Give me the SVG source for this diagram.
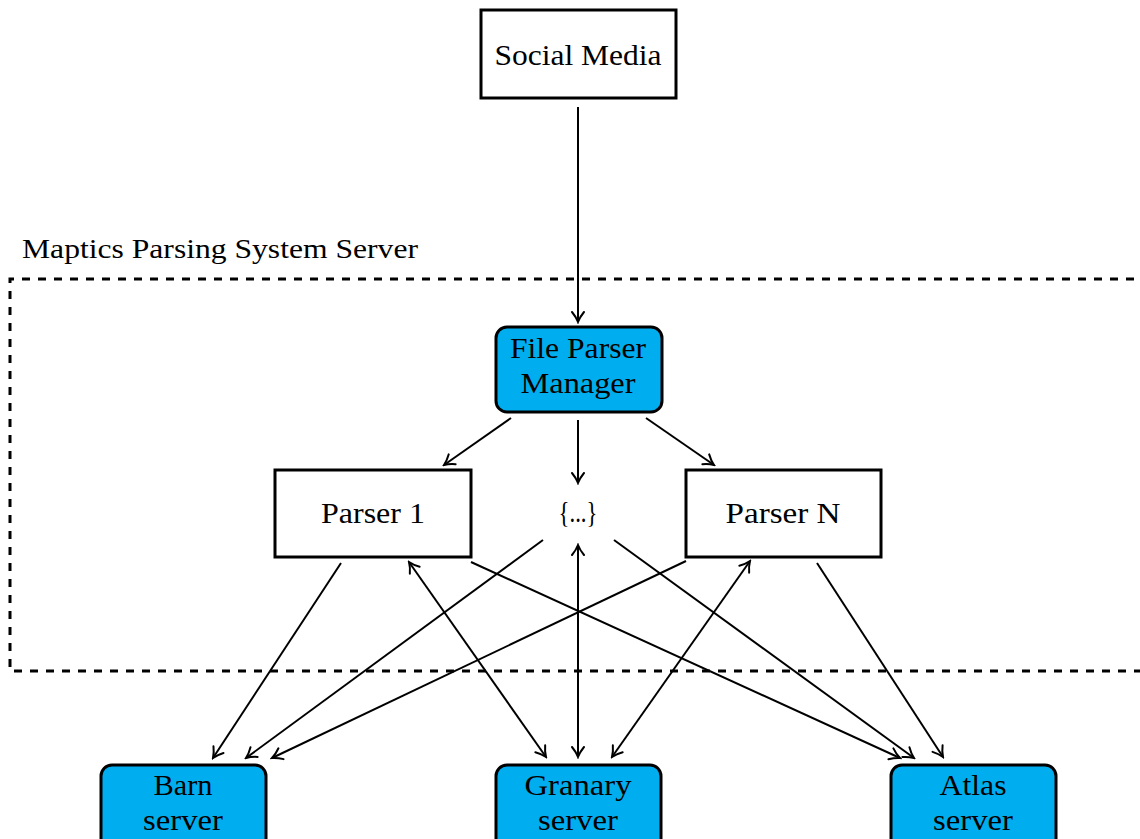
<svg xmlns="http://www.w3.org/2000/svg" width="1140" height="839" viewBox="0 0 1140 839">
  <style>
    .box { fill: #ffffff; stroke: #000; stroke-width: 3; }
    .srv { fill: #00AEEF; stroke: #000; stroke-width: 3; }
    .lbl { font-family: "Liberation Serif", "Times New Roman", serif; font-size: 29px; fill: #000; text-anchor: middle; }
    .title { font-family: "Liberation Serif", "Times New Roman", serif; font-size: 28px; fill: #000; }
    .edge { fill: none; stroke: #000; stroke-width: 2; }
    .zone { fill: none; stroke: #000; stroke-width: 3; stroke-dasharray: 8 8; }
  </style>
  <defs>
    <marker id="head" viewBox="-12 -8 14 16" markerUnits="userSpaceOnUse" markerWidth="14" markerHeight="16" refX="0" refY="0" orient="auto-start-reverse">
      <path d="M -10,-6 C -6,-2.7 -1.6,-0.6 0,0 C -1.6,0.6 -6,2.7 -10,6" fill="none" stroke="#000" stroke-width="2" stroke-linecap="round"/>
    </marker>
  </defs>
  <rect width="1140" height="839" fill="#ffffff"/>

  <!-- server boundary -->
  <g id="system-boundary">
    <path class="zone" d="M 1150,279 H 10 V 671 H 1150"/>
    <text class="title" x="22" y="258" textLength="396" lengthAdjust="spacingAndGlyphs">Maptics Parsing System Server</text>
  </g>

  <!-- connectors -->
  <g id="connectors">
    <line class="edge" x1="578" y1="107" x2="578" y2="322" marker-end="url(#head)"/>
    <line class="edge" x1="511" y1="418" x2="444" y2="465" marker-end="url(#head)"/>
    <line class="edge" x1="578" y1="420" x2="578" y2="483" marker-end="url(#head)"/>
    <line class="edge" x1="646" y1="418" x2="714" y2="465" marker-end="url(#head)"/>

    <line class="edge" x1="341" y1="563" x2="213" y2="758" marker-end="url(#head)"/>
    <line class="edge" x1="409" y1="562" x2="546" y2="757" marker-start="url(#head)" marker-end="url(#head)"/>
    <line class="edge" x1="471" y1="562" x2="900" y2="758" marker-end="url(#head)"/>

    <line class="edge" x1="543" y1="540" x2="246" y2="758" marker-end="url(#head)"/>
    <line class="edge" x1="578" y1="545" x2="578" y2="757" marker-start="url(#head)" marker-end="url(#head)"/>
    <line class="edge" x1="614" y1="540" x2="914" y2="758" marker-end="url(#head)"/>

    <line class="edge" x1="686" y1="561" x2="272" y2="758" marker-end="url(#head)"/>
    <line class="edge" x1="750" y1="561" x2="612" y2="757" marker-start="url(#head)" marker-end="url(#head)"/>
    <line class="edge" x1="817" y1="563" x2="943" y2="757" marker-end="url(#head)"/>
  </g>

  <g id="social-media">
    <rect class="box" x="481" y="10" width="195" height="88"/>
    <text class="lbl" x="578" y="65" textLength="167" lengthAdjust="spacingAndGlyphs">Social Media</text>
  </g>

  <g id="file-parser-manager">
    <rect class="srv" x="496" y="327" width="166" height="85" rx="11" ry="11"/>
    <text class="lbl" x="578" y="358" textLength="136" lengthAdjust="spacingAndGlyphs">File Parser</text>
    <text class="lbl" x="578" y="393" textLength="115" lengthAdjust="spacingAndGlyphs">Manager</text>
  </g>

  <g id="parser-1">
    <rect class="box" x="275" y="470" width="196" height="87"/>
    <text class="lbl" x="373" y="523" textLength="104" lengthAdjust="spacingAndGlyphs">Parser 1</text>
  </g>

  <g id="parser-more">
    <text class="lbl" x="578" y="522" textLength="39" lengthAdjust="spacingAndGlyphs">{...}</text>
  </g>

  <g id="parser-n">
    <rect class="box" x="686" y="470" width="195" height="87"/>
    <text class="lbl" x="783" y="523" textLength="115" lengthAdjust="spacingAndGlyphs">Parser N</text>
  </g>

  <g id="barn-server">
    <rect class="srv" x="101" y="765" width="165" height="90" rx="11" ry="11"/>
    <text class="lbl" x="183" y="795" textLength="59" lengthAdjust="spacingAndGlyphs">Barn</text>
    <text class="lbl" x="183" y="830" textLength="80" lengthAdjust="spacingAndGlyphs">server</text>
  </g>

  <g id="granary-server">
    <rect class="srv" x="496" y="765" width="165" height="90" rx="11" ry="11"/>
    <text class="lbl" x="578" y="795" textLength="107" lengthAdjust="spacingAndGlyphs">Granary</text>
    <text class="lbl" x="578" y="830" textLength="80" lengthAdjust="spacingAndGlyphs">server</text>
  </g>

  <g id="atlas-server">
    <rect class="srv" x="891" y="765" width="165" height="90" rx="11" ry="11"/>
    <text class="lbl" x="973" y="795" textLength="67" lengthAdjust="spacingAndGlyphs">Atlas</text>
    <text class="lbl" x="973" y="830" textLength="80" lengthAdjust="spacingAndGlyphs">server</text>
  </g>
</svg>
